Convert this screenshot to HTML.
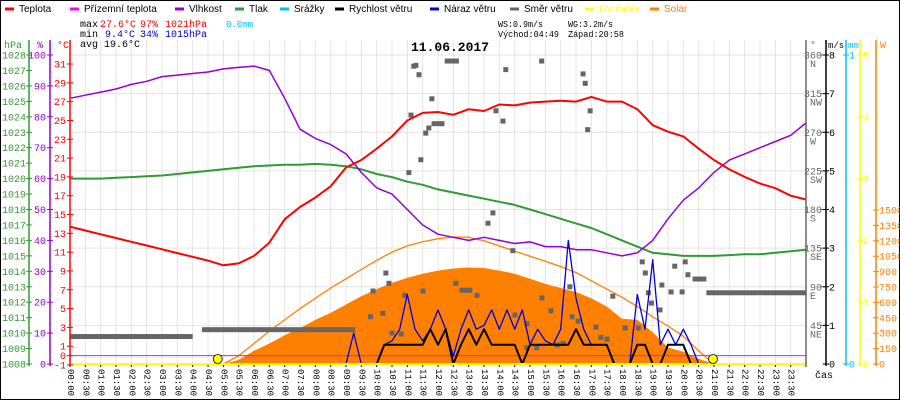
<!DOCTYPE html>
<html><head><meta charset="utf-8">
<style>
html,body{margin:0;padding:0;background:#fff;}
svg{display:block;font-family:"Liberation Sans",sans-serif;}
.m{font-family:"Liberation Mono",monospace;}
</style></head>
<body>
<svg id="chart" width="900" height="400" viewBox="0 0 900 400" xmlns="http://www.w3.org/2000/svg">
<rect x="0.5" y="0.5" width="899" height="399" fill="#fff" stroke="#000"/>
<g id="grid"></g>
<g id="series"></g>
<g id="axes"></g>
<g id="legend" font-size="10"></g>
<g font-size="10" class="m">
<text x="80" y="27">max</text>
<text x="100" y="27" fill="#f00">27.6°C</text>
<text x="140" y="27" fill="#f00">97%</text>
<text x="165" y="27" fill="#f00">1021hPa</text>
<text x="226" y="27" fill="#00bfff" font-size="9">0.0mm</text>
<text x="80" y="37">min</text>
<text x="105" y="37" fill="#00c">9.4°C</text>
<text x="140" y="37" fill="#00c">34%</text>
<text x="165" y="37" fill="#00c">1015hPa</text>
<text x="80" y="47">avg 19.6°C</text>
<text x="498" y="27" font-size="9" textLength="45" lengthAdjust="spacingAndGlyphs">WS:0.9m/s</text>
<text x="568" y="27" font-size="9" textLength="45" lengthAdjust="spacingAndGlyphs">WG:3.2m/s</text>
<text x="498" y="37" font-size="9" textLength="61" lengthAdjust="spacingAndGlyphs">Východ:04:49</text>
<text x="568" y="37" font-size="9" textLength="56" lengthAdjust="spacingAndGlyphs">Západ:20:58</text>
</g>
<text x="450" y="51" text-anchor="middle" font-size="13" font-weight="bold" class="m">11.06.2017</text>
</svg>
<script>
// ---- data ----
const halfHours = [0,0.5,1,1.5,2,2.5,3,3.5,4,4.5,5,5.5,6,6.5,7,7.5,8,8.5,9,9.5,10,10.5,11,11.5,12,12.5,13,13.5,14,14.5,15,15.5,16,16.5,17,17.5,18,18.5,19,19.5,20,20.5,21,21.5,22,22.5,23,23.5,24];
const temperature = [13.7,13.3,12.9,12.5,12.1,11.7,11.3,10.9,10.5,10.1,9.6,9.8,10.6,12.0,14.5,15.8,16.8,18.0,20.0,20.8,22.0,23.3,25.0,25.8,25.9,25.6,26.2,26.0,26.7,26.6,26.9,27.0,27.1,27.0,27.5,27.0,27.0,26.2,24.5,23.8,23.3,22.0,20.8,19.8,19.0,18.3,17.8,17.0,16.6];
const humidity = [86,87,88,89,90.5,91.5,93,93.5,94,94.5,95.5,96,96.4,95,86,76,73,71,68,62,57,55,50,45,42,41,40,41,40,39,39.5,38,38,37,37,36,35,36,40,47,53,57,62,66,68,70,72,74,78];
const pressure = [1020.0,1020.0,1020.0,1020.05,1020.1,1020.15,1020.2,1020.3,1020.4,1020.5,1020.6,1020.7,1020.8,1020.85,1020.9,1020.9,1020.95,1020.9,1020.8,1020.6,1020.3,1020.1,1019.8,1019.6,1019.3,1019.1,1018.9,1018.7,1018.5,1018.3,1018.0,1017.7,1017.4,1017.1,1016.8,1016.4,1016.0,1015.6,1015.2,1015.1,1015.0,1015.0,1015.0,1015.05,1015.1,1015.1,1015.2,1015.3,1015.4];
const solar = [0,0,0,0,0,0,0,0,0,0,0,40,130,200,280,350,430,500,580,660,730,790,840,880,910,930,940,935,910,880,830,780,740,700,640,560,440,430,310,160,120,50,0,0,0,0,0,0,0];
const solarTheory = [0,0,0,0,0,0,0,0,0,0,0,80,200,320,430,540,640,740,830,920,1010,1090,1150,1190,1220,1237,1235,1200,1150,1100,1050,1000,950,890,810,730,650,560,460,370,270,130,0,0,0,0,0,0,0];
const windHours = [9,9.25,9.5,9.75,10,10.25,10.5,10.75,11,11.25,11.5,11.75,12,12.25,12.5,12.75,13,13.25,13.5,13.75,14,14.25,14.5,14.75,15,15.25,15.5,15.75,16,16.25,16.5,16.75,17,17.25,17.5,17.75,18,18.25,18.5,18.75,19,19.25,19.5,19.75,20,20.25,20.5,20.75,21];
const windSpeed = [0,0,0,0,0,0.5,0.5,0.5,0.5,0.5,0.5,0.9,0.5,0.9,0,0.5,0.9,0.5,0.9,0.5,0.5,0.5,0.5,0,0.5,0.5,0.5,0.5,0.5,0.5,0.9,0.5,0.5,0.5,0.5,0,0,0,0.5,0.5,0,0,0.5,0.5,0.5,0,0,0,0];
const windGust = [0,0.8,0,0,0,0.5,0.6,0.9,1.8,0.9,0.6,0.9,1.4,0.9,0.2,0.9,1.4,0.9,1.0,1.4,0.9,1.4,0.9,1.4,0.5,0.9,0.6,0.5,0.9,3.2,1.7,0.9,0.5,0.5,0.5,0,0,0,1.8,0.9,2.7,0.5,0.9,0.5,0.9,0.5,0,0,0];
const dirRunStart = [0,4.3,20.3,20.75];
const dirRunEnd = [4.0,9.3,20.75,24];
const dirRunValue = [32,40,99,83];
const dirPtTime = [11.21,11.28,11.38,12.3,12.45,12.6,15.38,14.21,16.73,16.8,11.8,11.12,16.96,16.88,13.89,14.12,11.7,11.87,12.13,12.03,11.6,11.44,11.05,13.79,13.63,14.44,10.3,10.4,9.88,10.2,10.8,10.92,11.51,12.58,12.78,12.92,13.04,13.27,14.9,14.51,15.68,15.39,16.3,16.37,16.57,16.08,15.89,14.9,15.22,17.15,17.31,17.51,17.7,18.1,18.53,18.66,18.76,18.86,18.96,19.24,19.3,19.6,19.96,20.06,19.72,20.15,9.8,10.5];
const dirPtValue = [347,348,337,353,353,353,353,343,338,327,309,290,295,273,295,283,275,280,280,280,269,238,223,176,164,132,106,94,85,59,35,80,85,94,86,86,86,80,47,57,62,77,90,55,50,24,22,19,19,43,31,29,79,42,42,119,106,83,71,63,92,84,84,119,114,104,55,36];
const tempTicks = [31,29,27,25,23,21,19,17,15,13,11,9,7,5,3,1,0,-1];
const humTicks = [100,90,80,70,60,50,40,30,20,10,0];
const pressTicks = [1028,1027,1026,1025,1024,1023,1022,1021,1020,1019,1018,1017,1016,1015,1014,1013,1012,1011,1010,1009,1008];
const dirTicks = [360,315,270,225,180,135,90,45];
const dirNames = ["N","NW","W","SW","S","SE","E","NE"];
const speedTicks = [8,7,6,5,4,3,2,1,0];
const uvTicks = [5,4,3,2,1,0];
const solarTicks = [1500,1350,1200,1050,900,750,600,450,300,150,0];
const sunTimes = [4.817,20.967];

// ---- scales ----
const X = h => 70 + h*30.667;
const yT = t => 355.6 - t*9.406;
const yH = v => 364 - v*3.09;
const yP = p => 364 - (p-1008)*15.45;
const yS = w => 364 - w*0.10267;
const yW = s => 364 - s*38.625;
const yD = d => 364 - d*0.8583;
const yUV = u => 364 - u*61.8;

const NS = "http://www.w3.org/2000/svg";
function mk(tag, parent, attrs){
  const el = document.createElementNS(NS, tag);
  for (const k in attrs) el.setAttribute(k, attrs[k]);
  parent.appendChild(el);
  return el;
}
const grid = document.getElementById('grid');
const series = document.getElementById('series');
const axes = document.getElementById('axes');
const legend = document.getElementById('legend');

for (let i=0;i<=48;i++){
  const x = X(i*0.5);
  const l = mk('line', grid, {x1:x,y1:40,x2:x,y2:364,stroke:'#e6e2e2','stroke-width':1});
  
  
  const tk = mk('line', grid, {x1:x,y1:364,x2:x,y2:367,stroke:'#000','stroke-width':1});
  
  
  const hh = Math.floor(i/2), mm = i%2 ? '30':'00';
  if (i<48){
    const t = mk('text', grid, {x:x, y:369, 'font-size':9, 'font-family':'Liberation Mono, monospace', 'writing-mode':'tb', 'glyph-orientation-vertical':90});
    t.textContent = String(hh).padStart(2,'0')+':'+mm;
    
    
  }
}
for (const s of speedTicks){
  if (s===0) continue;
  const l = mk('line', grid, {x1:70,y1:yW(s),x2:806,y2:yW(s),stroke:'#e6e2e2','stroke-width':1});
  
  
}

function poly(xs, ys, color, w, name){
  const pts = xs.map((h,i)=>X(h).toFixed(1)+','+ys[i].toFixed(1)).join(' ');
  const p = mk('polyline', series, {points:pts, fill:'none', stroke:color, 'stroke-width':w, 'stroke-linejoin':'round'});
  
  
  return p;
}
{
  let d = 'M'+X(0)+',364 ';
  halfHours.forEach((h,i)=>{ d += 'L'+X(h).toFixed(1)+','+yS(solar[i]).toFixed(1)+' '; });
  d += 'L'+X(24)+',364 Z';
  const p = mk('path', series, {d:d, fill:'#ff8000'});
  
  
}
poly(halfHours, solarTheory.map(yS), '#ff8000', 1.3, 'solar-theory-line');
dirRunStart.forEach((s,i)=>{
  const r = mk('rect', series, {x:X(s), y:yD(dirRunValue[i])-2.5, width:X(dirRunEnd[i])-X(s), height:5, fill:'#666'});
  
  
});
dirPtTime.forEach((t,i)=>{
  const r = mk('rect', series, {x:X(t)-2.5, y:yD(dirPtValue[i])-2.5, width:5, height:5, fill:'#666'});
  
  
});
poly(halfHours, pressure.map(yP), '#339933', 2, 'pressure-line');
poly(halfHours, humidity.map(yH), '#9400d3', 1.5, 'humidity-line');
poly(halfHours, temperature.map(yT), '#f00', 2, 'temperature-line');
{
  const l = mk('line', series, {x1:70,y1:yT(0),x2:806,y2:yT(0),stroke:'#ff00ff','stroke-width':1});
  
  
}
poly(windHours, windGust.map(yW), '#0000dd', 1.3, 'wind-gust-line');
poly(windHours, windSpeed.map(yW), '#000', 2, 'wind-speed-line');
{
  const l = mk('line', series, {x1:70,y1:364,x2:806,y2:364,stroke:'#ffff00','stroke-width':2});
  
  
}
sunTimes.forEach(t=>{
  const c = mk('circle', series, {cx:X(t), cy:359, r:4.5, fill:'#ffff00', stroke:'#000', 'stroke-width':0.8});
  
  
});

function vline(x, color, name){
  const l = mk('line', axes, {x1:x,y1:40,x2:x,y2:366,stroke:color,'stroke-width':1.5});
  
  
}
function label(x,y,txt,color,anchor,name,size){
  const t = mk('text', axes, {x:x,y:y,fill:color,'text-anchor':anchor||'start','font-size':size||10,'font-family':'Liberation Mono, monospace'});
  t.textContent = txt;
  
  
}
function tick(x,y,color){
  const l = mk('line', axes, {x1:x-3,y1:y,x2:x+3,y2:y,stroke:color,'stroke-width':1});
  
  
}
vline(29,'#339933','pressure-axis');
vline(50,'#9400d3','humidity-axis');
vline(70,'#f00','temperature-axis');
vline(806,'#666','direction-axis');
vline(826,'#000','speed-axis');
vline(846,'#00bfff','rain-axis');
vline(860,'#ffff00','uv-axis');
vline(876,'#ff8000','solar-axis');
label(4,48,'hPa','#339933','start','pressure-unit');
label(37,48,'%','#9400d3','start','humidity-unit');
label(57,48,'°C','#f00','start','temperature-unit');
label(810,48,'°','#666','start','direction-unit');
label(828,48,'m/s','#000','start','speed-unit',9);
label(848,48,'mm','#00bfff','start','rain-unit',9);
label(880,48,'W','#ff8000','start','solar-unit');
label(815,378,'čas','#000','start','time-axis-title');
pressTicks.forEach(p=>{ tick(29,yP(p),'#339933'); label(26,yP(p)+3.5,String(p),'#339933','end','pressure-tick-label'); });
humTicks.forEach(h=>{ tick(50,yH(h),'#9400d3'); label(46,yH(h)+3.5,String(h),'#9400d3','end','humidity-tick-label'); });
tempTicks.forEach(t=>{ tick(70,yT(t),'#f00'); label(66,yT(t)+3.5,String(t),'#f00','end','temperature-tick-label'); });
dirTicks.forEach((d,i)=>{ tick(823,yD(d),'#666'); label(822,yD(d)+3.5,String(d),'#666','end','direction-tick-label'); label(810,yD(d)+12,dirNames[i],'#666','start','direction-name-label'); });
speedTicks.forEach(s=>{ tick(826,yW(s),'#000'); label(829,yW(s)+3.5,String(s),'#000','start','speed-tick-label'); });
tick(846,yW(8),'#00bfff'); label(849,yW(8)+3.5,'1','#00bfff','start','rain-tick-label');
tick(846,364,'#00bfff'); label(849,367.5,'0','#00bfff','start','rain-tick-label');
uvTicks.forEach(u=>{ tick(860,yUV(u),'#ffff00'); label(863,yUV(u)+3.5,String(u),'#ffff00','start','uv-tick-label'); });
solarTicks.forEach(s=>{ tick(876,yS(s),'#ff8000'); label(879,yS(s)+3.5,String(s),'#ff8000','start','solar-tick-label'); });

const legNames = ['Teplota','Přízemní teplota','Vlhkost','Tlak','Srážky','Rychlost větru','Náraz větru','Směr větru','UV index','Solar'];
const legColors = ['#f00','#ff00ff','#9400d3','#339933','#00bfff','#000','#0000dd','#666','#ffff00','#ff8000'];
const legX = [5,70,175,235,280,335,430,510,585,650];
legNames.forEach((n,i)=>{
  const l = mk('line', legend, {x1:legX[i],y1:9,x2:legX[i]+9,y2:9,stroke:legColors[i],'stroke-width':3});
  
  
  const t = mk('text', legend, {x:legX[i]+14,y:12,fill:(i>=8?legColors[i]:'#000'),'font-family':'Liberation Sans, sans-serif'});
  t.textContent = n;
  
  
});
</script>
</body></html>
